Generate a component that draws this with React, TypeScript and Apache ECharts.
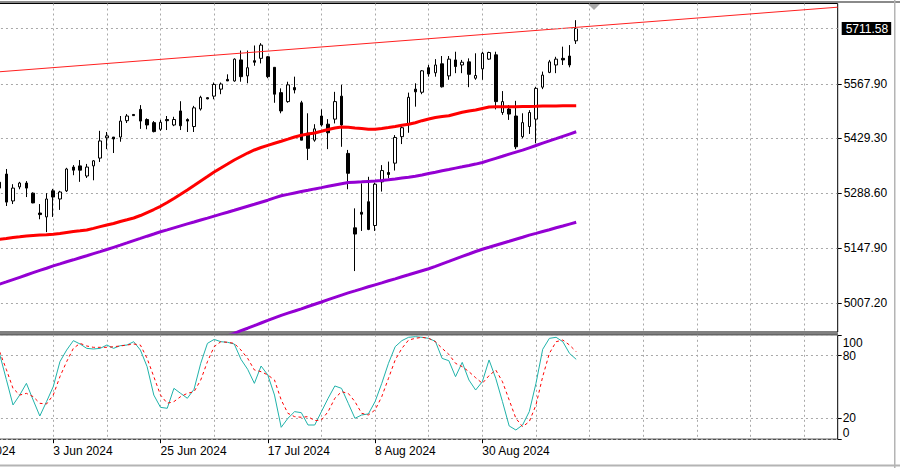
import { useEffect, useRef } from 'react';
import * as echarts from 'echarts';

// ---------- categories (trading days) ----------
const dates = ["10 May 2024","13 May 2024","14 May 2024","15 May 2024","16 May 2024","17 May 2024","20 May 2024","21 May 2024","22 May 2024","23 May 2024","24 May 2024","27 May 2024","28 May 2024","29 May 2024","30 May 2024","31 May 2024","3 Jun 2024","4 Jun 2024","5 Jun 2024","6 Jun 2024","7 Jun 2024","10 Jun 2024","11 Jun 2024","12 Jun 2024","13 Jun 2024","14 Jun 2024","17 Jun 2024","18 Jun 2024","19 Jun 2024","20 Jun 2024","21 Jun 2024","24 Jun 2024","25 Jun 2024","26 Jun 2024","27 Jun 2024","28 Jun 2024","1 Jul 2024","2 Jul 2024","3 Jul 2024","4 Jul 2024","5 Jul 2024","8 Jul 2024","9 Jul 2024","10 Jul 2024","11 Jul 2024","12 Jul 2024","15 Jul 2024","16 Jul 2024","17 Jul 2024","18 Jul 2024","19 Jul 2024","22 Jul 2024","23 Jul 2024","24 Jul 2024","25 Jul 2024","26 Jul 2024","29 Jul 2024","30 Jul 2024","31 Jul 2024","1 Aug 2024","2 Aug 2024","5 Aug 2024","6 Aug 2024","7 Aug 2024","8 Aug 2024","9 Aug 2024","12 Aug 2024","13 Aug 2024","14 Aug 2024","15 Aug 2024","16 Aug 2024","19 Aug 2024","20 Aug 2024","21 Aug 2024","22 Aug 2024","23 Aug 2024","26 Aug 2024","27 Aug 2024","28 Aug 2024","29 Aug 2024","30 Aug 2024","2 Sep 2024","3 Sep 2024","4 Sep 2024","5 Sep 2024","6 Sep 2024","9 Sep 2024","10 Sep 2024","11 Sep 2024","12 Sep 2024","13 Sep 2024","16 Sep 2024","17 Sep 2024","18 Sep 2024","19 Sep 2024"];
const HIDDEN_BARS = 8;   // dated categories left of the visible area, no candles drawn
const FUTURE_BARS = 39;  // empty space to the right (chart shift)

// ---------- price data (22 May .. 19 Sep) ----------
const open = [5317,5338,5269,5305,5315,5289,5238,5228,5295,5274,5295,5356,5359,5333,5359,5379,5431,5433,5433,5475,5491,5504,5478,5470,5453,5478,5464,5500,5478,5460,5505,5534,5538,5556,5581,5577,5631,5590,5629,5635,5639,5612,5547,5524,5560,5521,5443,5425,5487,5466,5479,5538,5391,5200,5240,5267,5206,5318,5342,5366,5434,5466,5556,5548,5611,5598,5621,5590,5631,5618,5626,5584,5608,5633,5644,5496,5505,5487,5434,5460,5479,5561,5599,5618,5635,5641,5680];
const close = [5302,5266,5302,5315,5302,5264,5234,5274,5279,5292,5351,5348,5348,5356,5372,5423,5436,5428,5474,5487,5488,5474,5464,5447,5471,5475,5478,5462,5474,5508,5535,5531,5568,5569,5577,5633,5588,5611,5625,5669,5588,5543,5500,5567,5554,5425,5404,5454,5464,5444,5524,5464,5340,5184,5235,5196,5312,5347,5337,5432,5457,5535,5549,5603,5595,5618,5562,5633,5614,5625,5594,5591,5648,5650,5524,5524,5492,5408,5470,5496,5558,5592,5626,5633,5631,5618,5711.58];
const low = [5290,5256,5261,5299,5279,5263,5222,5189,5228,5246,5292,5335,5318,5328,5322,5369,5402,5392,5421,5469,5487,5454,5453,5445,5449,5451,5461,5451,5446,5446,5501,5530,5530,5543,5577,5575,5575,5571,5616,5622,5584,5521,5494,5521,5545,5425,5374,5421,5460,5402,5468,5408,5299,5089,5192,5194,5192,5293,5327,5347,5415,5444,5511,5543,5588,5588,5560,5580,5597,5597,5561,5580,5580,5631,5504,5490,5477,5402,5430,5441,5417,5556,5597,5597,5618,5612,5672];
const high = [5325,5351,5312,5318,5320,5291,5261,5289,5300,5295,5354,5361,5374,5364,5374,5449,5446,5433,5487,5492,5492,5515,5481,5474,5477,5487,5485,5525,5481,5513,5539,5535,5573,5573,5594,5635,5655,5655,5668,5674,5641,5612,5558,5575,5588,5526,5494,5466,5504,5479,5549,5567,5400,5250,5314,5331,5316,5361,5370,5438,5461,5547,5571,5605,5618,5633,5641,5641,5652,5631,5635,5648,5652,5652,5652,5551,5515,5526,5494,5502,5562,5601,5631,5639,5665,5669,5733];

// ---------- moving averages ----------
const maRed = [5170.5,5172.6,5175.2,5177,5179,5180.3,5181.3,5182.3,5183.4,5185.4,5187.9,5190.3,5192.3,5194.4,5198.7,5203.1,5207.2,5211.1,5216.2,5220.6,5225.2,5231.6,5239.3,5247,5255.2,5265,5275.3,5286.1,5297.1,5308.6,5320.2,5331.7,5343.3,5353.6,5363.8,5374.1,5383.1,5392,5399.8,5406.2,5411.8,5417.2,5422.1,5427.5,5433.1,5437.5,5440.8,5443.4,5447.8,5452.4,5456.2,5458.8,5458,5456.2,5454.7,5453.2,5453,5455,5457.5,5460.1,5463.2,5465.7,5469.8,5475,5479.3,5483.2,5485.8,5487.6,5492.2,5496.5,5499.9,5502.4,5506.3,5510.1,5510.7,5510.7,5510.9,5510.9,5511.2,5511.4,5511.9,5512.5,5512.7,5513,5513.2,5513.2,5513.5];
const maPurpleUpper = [5055.5,5061.2,5067.1,5073,5078.9,5084.8,5090.7,5096.3,5102.2,5107.4,5112.8,5117.9,5123.3,5128.4,5133.8,5138.9,5144.3,5150,5155.6,5161.3,5167.2,5172.8,5178.5,5184.1,5189.8,5194.6,5199.8,5204.9,5210,5214.9,5220.1,5224.9,5230.1,5235.2,5240.1,5245.2,5250.4,5255.5,5260.6,5265.8,5270.9,5276.8,5282.4,5285.8,5289.4,5293,5296.3,5299.9,5303.2,5306.6,5309.9,5313.2,5316.1,5317.1,5318.1,5319.2,5320.2,5321.5,5323.5,5325.6,5327.9,5330,5332.5,5335.8,5339.4,5342.8,5346.4,5349.7,5353.3,5356.6,5360,5363.6,5367.7,5373.1,5378.4,5383.6,5389,5394.4,5399.5,5405.4,5411.3,5417.2,5423.1,5428.8,5434.7,5440.6,5446.5];
const LOWER_START = 32; // first bar (from 22 May) where the lower line is given
const maPurpleLower = [4909.2,4915.9,4922.6,4928.9,4935.9,4942.3,4949,4955.7,4962.3,4969,4975.4,4981.1,4986.5,4992.1,4998,5003.9,5009.6,5015.5,5021.4,5027.3,5032.9,5038.1,5043.4,5048.6,5053.7,5058.8,5064,5069.1,5074.5,5079.6,5084.8,5089.9,5095,5101.2,5107.6,5113.8,5120.2,5126.6,5132.8,5139.2,5145.1,5150.2,5155.4,5160.5,5165.6,5170.8,5175.9,5181.3,5185.7,5190.6,5195.2,5200.1,5204.7,5209.6,5214.2];

// ---------- trend line (category index, price) ----------
const trendLine = [[0, 5590.0], [133, 5766.3]];

// ---------- stochastic ----------
const stochK = [81.6,57.3,32.8,42.3,53.5,37.6,22.2,36,50.3,74.3,85.4,94.4,91.2,87,86.4,87,90.2,87,89.6,90.2,93.4,85.4,69.5,42.3,30.5,29.6,48.7,43.9,39.2,47.8,72.7,91.8,95.6,93.4,92.8,91.2,76.5,66.9,53.5,70.1,61.5,42.3,11.4,20,26.4,25.4,13.6,13.6,26.4,39.2,51,48.7,34.4,20,23.2,24.2,36,53.5,72.7,88.6,94.4,97.6,98.2,97.6,96.6,93.7,77.4,75.2,59.9,73.6,56.7,47.1,55.1,75.9,58.3,36,12.7,8.8,13.6,26.4,53.5,86.1,96.6,97.6,93.4,82.2,76.5];
const stochD = [83.8,66.9,48.7,42.3,43.9,40.8,34.4,33.7,42.3,59.9,74.3,87,91.8,89.3,88,88,88,88.6,89.3,90.2,91.2,90.2,77.4,59.9,42.3,34.4,36,40.8,43.9,45.5,56.7,74.3,88.6,93.4,92.8,91.8,85.4,77.4,66.3,64.7,61.5,56.7,37.6,24.8,21.6,21,21.6,17.8,18.4,26.4,39.2,45.5,43.9,36,24.8,23.2,28,40.8,58.3,75.9,87,95,96.6,97.6,96.6,93.4,87,81.3,72.7,69.5,64.7,58.9,53.5,60.9,66.3,55.1,37.6,20,12,16.8,32.8,59.9,82.2,93.4,95,90.2,83.8];

// ---------- axis ticks ----------
const priceTicks = [5007.2, 5147.9, 5288.6, 5429.3, 5567.9];
const stochTicks = [0, 20, 80, 100];

const FONT = "'Liberation Sans', Arial, sans-serif";
const GRID_COLOR = '#a8a8a8';
const GRID_DASH = [2, 3];

function buildOption() {
  const cats = [...dates, ...Array.from({ length: FUTURE_BARS }, (_, j) => `f${j}`)];
  const padLine = (arr: number[], n: number) => [...Array(n).fill('-'), ...arr];
  const candles = [
    ...Array.from({ length: HIDDEN_BARS }, () => ['-', '-', '-', '-']),
    ...open.map((o, j) => [o, close[j], low[j], high[j]]),
  ];
  const last = close[close.length - 1];

  const gridLeft = -54.04;
  const gridWidth = 891.74;

  const xAxisBase = (gridIndex: number, withLabels: boolean) => ({
    type: 'category',
    gridIndex,
    data: cats,
    boundaryGap: false,
    axisLine: { show: false },
    axisTick: withLabels
      ? {
          show: true,
          interval: (idx: number) => idx % 16 === 0 && idx < dates.length,
          length: 4,
          lineStyle: { color: '#000', width: 1 },
        }
      : { show: false },
    axisLabel: withLabels
      ? {
          show: true,
          interval: 15,
          align: 'left',
          margin: 6,
          hideOverlap: false,
          color: '#000',
          fontFamily: FONT,
          fontSize: 12,
          formatter: (v: string) => (v.startsWith('f') ? '' : v),
        }
      : { show: false },
    splitLine: { show: true, interval: 7, lineStyle: { color: GRID_COLOR, type: GRID_DASH, width: 1 } },
  });

  return {
    animation: false,
    backgroundColor: '#ffffff',
    textStyle: { fontFamily: FONT },
    grid: [
      {
        left: gridLeft, top: 3.5, width: gridWidth, height: 328.5,
        show: true, borderColor: '#000', borderWidth: 1, backgroundColor: 'transparent',
        containLabel: false, outerBoundsMode: 'none',
      },
      {
        left: gridLeft, top: 334.8, width: gridWidth, height: 104.4,
        show: true, borderColor: '#000', borderWidth: 1, backgroundColor: 'transparent',
        containLabel: false, outerBoundsMode: 'none',
      },
    ],
    xAxis: [xAxisBase(0, false), xAxisBase(1, true)],
    yAxis: [
      {
        type: 'value', gridIndex: 0, position: 'right',
        min: 4932.6, max: 5775.8,
        axisLine: { show: false },
        axisTick: { show: true, length: 4, customValues: priceTicks, lineStyle: { color: '#000' } },
        axisLabel: {
          show: true, customValues: priceTicks, margin: 6, color: '#000',
          fontFamily: FONT, fontSize: 12,
          formatter: (v: number) => v.toFixed(2),
        },
        splitLine: { show: true, lineStyle: { color: GRID_COLOR, type: GRID_DASH, width: 1 } },
      },
      {
        type: 'value', gridIndex: 1, position: 'right',
        min: 0, max: 100,
        axisLine: { show: false },
        axisTick: { show: true, length: 4, customValues: stochTicks, lineStyle: { color: '#000' } },
        axisLabel: {
          show: true, customValues: stochTicks, margin: 5, color: '#000',
          fontFamily: FONT, fontSize: 12,
          formatter: (v: number) => (v === 100 ? '{t|100}' : v === 0 ? '{b|0}' : String(v)),
          rich: {
            t: { padding: [17, 0, 0, 0], fontFamily: FONT, fontSize: 12, color: '#000' },
            b: { padding: [0, 0, 13, 0], fontFamily: FONT, fontSize: 12, color: '#000' },
          },
        },
        splitLine: { show: true, lineStyle: { color: GRID_COLOR, type: GRID_DASH, width: 1 } },
      },
    ],
    series: [
      {
        type: 'candlestick',
        xAxisIndex: 0, yAxisIndex: 0,
        data: candles,
        barWidth: 3,
        itemStyle: {
          color: '#ffffff', color0: '#000000',
          borderColor: '#000000', borderColor0: '#000000', borderWidth: 1,
        },
        markLine: {
          symbol: 'none', silent: true,
          lineStyle: { color: GRID_COLOR, type: GRID_DASH, width: 1 },
          label: {
            show: true, position: 'end', distance: 4,
            formatter: () => last.toFixed(2),
            color: '#ffffff', backgroundColor: '#000000',
            padding: [1, 3, 0, 4], fontFamily: FONT, fontSize: 12, lineHeight: 12,
          },
          data: [{ yAxis: last }],
        },
      },
      {
        type: 'line', xAxisIndex: 0, yAxisIndex: 0, symbol: 'none',
        data: padLine(maRed, HIDDEN_BARS),
        lineStyle: { color: '#ff0000', width: 3 },
      },
      {
        type: 'line', xAxisIndex: 0, yAxisIndex: 0, symbol: 'none',
        data: padLine(maPurpleUpper, HIDDEN_BARS),
        lineStyle: { color: '#9400d3', width: 3 },
      },
      {
        type: 'line', xAxisIndex: 0, yAxisIndex: 0, symbol: 'none',
        data: padLine(maPurpleLower, HIDDEN_BARS + LOWER_START),
        lineStyle: { color: '#9400d3', width: 3 },
      },
      {
        type: 'line', xAxisIndex: 0, yAxisIndex: 0, symbol: 'none',
        data: trendLine,
        lineStyle: { color: '#ff2020', width: 1 },
      },
      {
        type: 'line', xAxisIndex: 1, yAxisIndex: 1, symbol: 'none',
        data: padLine(stochK, HIDDEN_BARS),
        lineStyle: { color: '#20b2aa', width: 1 },
      },
      {
        type: 'line', xAxisIndex: 1, yAxisIndex: 1, symbol: 'none',
        data: padLine(stochD, HIDDEN_BARS),
        lineStyle: { color: '#ff0000', width: 1, type: [3, 3] },
      },
    ],
    graphic: [
      { type: 'rect', shape: { x: 0, y: 1, width: 900, height: 2 }, style: { fill: '#8a8a8a' }, silent: true },
      { type: 'rect', shape: { x: 0, y: 332.3, width: 838, height: 2.2 }, style: { fill: '#808080' }, silent: true },
      { type: 'polygon', shape: { points: [[588, 4], [600, 4], [594, 10]] }, style: { fill: '#a8a8a8' }, silent: true },
      { type: 'rect', shape: { x: 0, y: 464.5, width: 900, height: 2 }, style: { fill: '#b4b4b4' }, silent: true },
      { type: 'rect', shape: { x: 894, y: 0, width: 1.5, height: 468 }, style: { fill: '#b4b4b4' }, silent: true },
    ],
  };
}

export default function App() {
  const ref = useRef<HTMLDivElement>(null);
  useEffect(() => {
    if (!ref.current) return;
    const chart = echarts.init(ref.current, null, { renderer: 'svg' });
    chart.setOption(buildOption() as any);
    return () => chart.dispose();
  }, []);
  return (
    <div
      ref={ref}
      style={{ position: 'absolute', left: 0, top: 0, width: 900, height: 468, background: '#fff' }}
    />
  );
}
